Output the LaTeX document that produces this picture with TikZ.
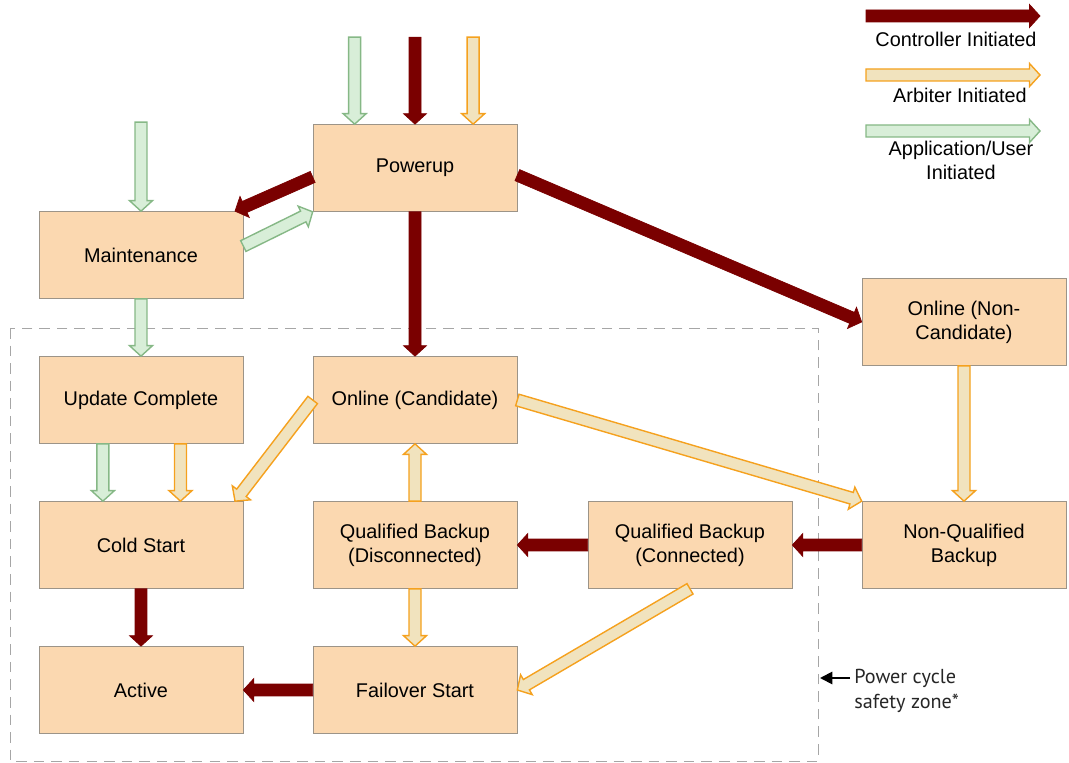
\documentclass[tikz,border=0pt]{standalone}
\usepackage{fontspec}
\setmainfont{Liberation Sans}
\newfontfamily\notefont{PT Sans}
\usetikzlibrary{calc,arrows.meta}

\definecolor{boxfill}{HTML}{FBD8B0}
\definecolor{boxline}{HTML}{9C9488}
\definecolor{ctrlred}{HTML}{7A0000}
\definecolor{arbline}{HTML}{F5A11E}
\definecolor{arbfill}{HTML}{F1E3BE}
\definecolor{appline}{HTML}{86B886}
\definecolor{appfill}{HTML}{D8EED8}
\definecolor{zoneline}{HTML}{A6A6A6}

% half shaft width, half head width, head length
\newcommand{\arrsw}{0.12cm}
\newcommand{\arrhw}{0.23cm}
\newcommand{\arrhl}{0.21cm}
% block arrow: #1 style, #2 from, #3 to
\newcommand{\fatarrow}[3]{%
	\filldraw[#1] ($(#2)!\arrsw!90:(#3)$)
		-- ($(#3)!\arrhl!(#2)!\arrsw!90:(#3)$)
		-- ($(#3)!\arrhl!(#2)!\arrhw!90:(#3)$)
		-- (#3)
		-- ($(#3)!\arrhl!(#2)!\arrhw!-90:(#3)$)
		-- ($(#3)!\arrhl!(#2)!\arrsw!-90:(#3)$)
		-- ($(#2)!\arrsw!-90:(#3)$) -- cycle;}

\begin{document}
\begin{tikzpicture}[x=0.02cm, y=-0.02cm,
	state/.style={draw=boxline, fill=boxfill, minimum width=4.08cm, minimum height=1.74cm,
		inner sep=0pt, align=center, font=\fontsize{11.3}{13.6}\selectfont},
	ctrl/.style={draw=ctrlred, fill=ctrlred, line width=0.4pt, line join=miter},
	arb/.style={draw=arbline, fill=arbfill, line width=0.8pt, line join=miter},
	app/.style={draw=appline, fill=appfill, line width=0.8pt, line join=miter},
	legend/.style={align=center, font=\fontsize{11.3}{13.6}\selectfont}]

	\useasboundingbox (0,0) rectangle (1069,763);

	% power cycle safety zone
	\draw [zoneline, dashed, dash pattern=on 6pt off 4pt] (10,328) rectangle (818,761);

	% states
	\node[state] (pow) at (415,168) {Powerup};
	\node[state] (mnt) at (141,255) {Maintenance};
	\node[state] (onc) at (964,322) {Online (Non-\\Candidate)};
	\node[state] (upd) at (141,400) {Update Complete};
	\node[state] (onl) at (415,400) {Online (Candidate)};
	\node[state] (cld) at (141,545) {Cold Start};
	\node[state] (qbd) at (415,545) {Qualified Backup\\(Disconnected)};
	\node[state] (qbc) at (690,545) {Qualified Backup\\(Connected)};
	\node[state] (nqb) at (964,545) {Non-Qualified\\Backup};
	\node[state] (act) at (141,690) {Active};
	\node[state] (fos) at (415,690) {Failover Start};

	% entry points from outside
	\coordinate (inG) at ($(pow.144)+(0,-87)$);
	\coordinate (inR) at ($(pow.north)+(0,-87)$);
	\coordinate (inO) at ($(pow.37)+(0,-87)$);
	\coordinate (inM) at ($(mnt.north)+(0,-89)$);

	\fatarrow{app}{inG}{pow.144}
	\fatarrow{ctrl}{inR}{pow.north}
	\fatarrow{arb}{inO}{pow.37}
	\fatarrow{app}{inM}{mnt.north}

	% controller transitions
	\fatarrow{ctrl}{pow.185}{mnt.25}
	\fatarrow{ctrl}{pow.-4}{onc.west}
	\fatarrow{ctrl}{pow.south}{onl.north}
	\fatarrow{ctrl}{nqb.west}{qbc.east}
	\fatarrow{ctrl}{qbc.west}{qbd.east}
	\fatarrow{ctrl}{cld.south}{act.north}
	\fatarrow{ctrl}{fos.west}{act.east}

	% application / user transitions
	\fatarrow{app}{mnt.5}{pow.south west}
	\fatarrow{app}{mnt.south}{upd.north}
	\fatarrow{app}{upd.229}{cld.131}

	% arbiter transitions
	\fatarrow{arb}{upd.312}{cld.48}
	\fatarrow{arb}{onl.west}{cld.25}
	\fatarrow{arb}{onl.east}{nqb.north west}
	\fatarrow{arb}{onc.south}{nqb.north}
	\fatarrow{arb}{qbd.north}{onl.south}
	\fatarrow{arb}{qbd.south}{fos.north}
	\fatarrow{arb}{qbc.south}{fos.east}

	% legend
	\coordinate (lgR1) at (866,16);  \coordinate (lgR2) at (1040,16);
	\coordinate (lgA1) at (866,75);  \coordinate (lgA2) at (1040,75);
	\coordinate (lgG1) at (866,131); \coordinate (lgG2) at (1040,131);
	\fatarrow{ctrl}{lgR1}{lgR2}
	\fatarrow{arb}{lgA1}{lgA2}
	\fatarrow{app}{lgG1}{lgG2}
	\node[legend] (lgRt) at (956,39) {Controller Initiated};
	\node[legend] (lgAt) at (960,95) {Arbiter Initiated};
	\node[legend] (lgGt) at (961,160) {Application/User\\Initiated};

	% note on the zone
	\node[anchor=west, align=left, text=black!85, inner sep=0pt,
		font=\notefont\fontsize{11.5}{14.7}\selectfont] (note) at (854,691) {Power cycle\\safety zone*};
	\coordinate (zoneR) at (850,678);
	\coordinate (zoneL) at (820,678);
	\draw [-{Triangle[length=7pt,width=7pt]}, line width=1.1pt] (zoneR) -- (zoneL);

\end{tikzpicture}
\end{document}
